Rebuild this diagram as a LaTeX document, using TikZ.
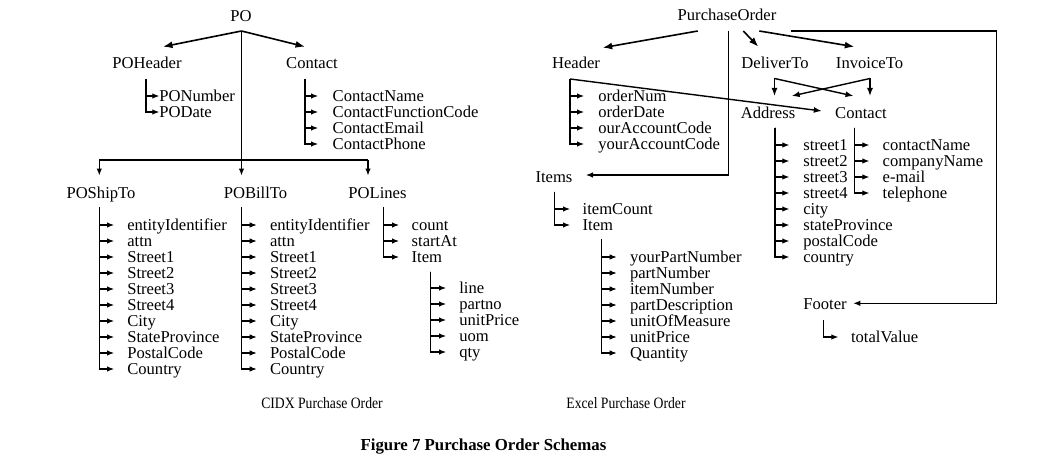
\documentclass[tikz,border=0pt]{standalone}
\usepackage{fontspec}
\usepackage{graphicx}
\setmainfont{Liberation Serif}
\usetikzlibrary{arrows.meta}
\begin{document}
\begin{tikzpicture}[x=1pt,y=-1pt,
  every node/.style={inner sep=0pt,outer sep=0pt,text height=11pt,text depth=0pt,font=\fontsize{16.6}{16.6}\selectfont},
  lbl/.style={anchor=center},
  itm/.style={anchor=west},
  sublabel/.style={anchor=center,text height=10.5pt,font=\fontsize{15.8}{15.8}\selectfont},
  tline/.style={line width=1.1pt},
  arr/.style={line width=1.1pt,-{Latex[length=7pt,width=5.5pt]}},
  bigarr/.style={line width=1.6pt,-{Latex[length=9.5pt,width=7pt]}},
  midarr/.style={line width=1.4pt,-{Latex[length=8pt,width=6pt]}}]
\useasboundingbox (0,0) rectangle (1043,468);
% ---------------- Left tree (CIDX) ----------------
\node[lbl] (PO) at (241,16) {PO};
\node[lbl] (POHeader) at (147,63) {POHeader};
\node[lbl] (Contact) at (312,63) {Contact};
\coordinate (poT) at (241.5,31);
\coordinate (poHA) at (163,46.7);
\coordinate (poCA) at (305,46.7);
\draw[bigarr] (poT) -- (poHA);
\draw[bigarr] (poT) -- (poCA);
% POHeader children
\node[itm] (PONumber) at (159.3,96) {PONumber};
\node[itm] (PODate) at (159.3,112) {PODate};
\coordinate (phT) at (146,79);
\foreach \n in {PONumber,PODate}
  \draw[arr] (phT) |- (\n.west);
% Contact children
\coordinate (cT) at (305,79);
\foreach \t [count=\i from 0] in {ContactName,ContactFunctionCode,ContactEmail,ContactPhone}{
  \node[itm] (c\i) at (332.7,96+16*\i) {\t};
  \draw[arr,shorten >=14.7pt] (cT) |- (c\i.west);
}
% trunk to second level
\coordinate (barM) at (241.5,160);
\coordinate (barL) at (99.3,160);
\coordinate (barR) at (368,160);
\coordinate (shipA) at (99.3,175.5);
\coordinate (billA) at (241.5,175.5);
\coordinate (linesA) at (368,175.5);
\draw[tline] (poT) -- (barM);
\draw[tline] (barL) -- (barR);
\draw[arr] (barL) -- (shipA);
\draw[arr] (barM) -- (billA);
\draw[arr] (barR) -- (linesA);
\node[lbl] (POShipTo) at (101,192.7) {POShipTo};
\node[lbl] (POBillTo) at (255.5,192.7) {POBillTo};
\node[lbl] (POLines) at (377.5,192.7) {POLines};
% POShipTo / POBillTo children
\coordinate (sT) at (99.3,207);
\coordinate (bT) at (241.7,207);
\foreach \t [count=\i from 0] in {entityIdentifier,attn,Street1,Street2,Street3,Street4,City,StateProvince,PostalCode,Country}{
  \node[itm] (s\i) at (127.3,225+16*\i) {\t};
  \draw[arr,shorten >=13.3pt] (sT) |- (s\i.west);
  \node[itm] (b\i) at (270,225+16*\i) {\t};
  \draw[arr,shorten >=13.3pt] (bT) |- (b\i.west);
}
% POLines children
\coordinate (lT) at (383.3,207);
\foreach \t [count=\i from 0] in {count,startAt,Item}{
  \node[itm] (l\i) at (411.7,225+16*\i) {\t};
  \draw[arr,shorten >=12.7pt] (lT) |- (l\i.west);
}
% Item children
\coordinate (iT) at (430.7,271.7);
\foreach \t [count=\i from 0] in {line,partno,unitPrice,uom,qty}{
  \node[itm] (it\i) at (459.3,288+16*\i) {\t};
  \draw[arr,shorten >=13.3pt] (iT) |- (it\i.west);
}
\node[sublabel] (cidx) at (322,403) {\scalebox{0.865}[1]{CIDX Purchase Order}};
% ---------------- Right tree (Excel) ----------------
\node[lbl] (PurchaseOrder) at (727,15) {PurchaseOrder};
\node[lbl] (Header) at (576,63) {Header};
\node[lbl] (DeliverTo) at (775,63) {DeliverTo};
\node[lbl] (InvoiceTo) at (869.5,63) {InvoiceTo};
\coordinate (pHs) at (697.7,31);
\coordinate (pHe) at (602.7,47.7);
\coordinate (pDs) at (743.3,31);
\coordinate (pDe) at (758.3,46.7);
\coordinate (pIs) at (759.3,31);
\coordinate (pIe) at (854.3,46.7);
\draw[bigarr] (pHs) -- (pHe);
\draw[bigarr] (pDs) -- (pDe);
\draw[bigarr] (pIs) -- (pIe);
% Header children
\coordinate (hT) at (570,79);
\foreach \t [count=\i from 0] in {orderNum,orderDate,ourAccountCode,yourAccountCode}{
  \node[itm] (h\i) at (598.3,96+16*\i) {\t};
  \draw[arr,shorten >=14.3pt] (hT) |- (h\i.west);
}
\node[lbl] (Address) at (768,112.7) {Address};
\node[lbl] (Contact2) at (861,112.7) {Contact};
\draw[midarr,shorten >=13.5pt] (hT) -- (Contact2.west);
% DeliverTo / InvoiceTo links
\coordinate (dT) at (774.5,78.5);
\coordinate (dA) at (774.5,96);
\coordinate (dC) at (853.5,96);
\coordinate (nT) at (870,78.5);
\coordinate (nA) at (791.7,96);
\coordinate (nC) at (870,96);
\draw[midarr] (dT) -- (dA);
\draw[midarr] (dT) -- (dC);
\draw[midarr] (nT) -- (nC);
\draw[midarr] (nT) -- (nA);
% Address children
\coordinate (aT) at (775,127.7);
\foreach \t [count=\i from 0] in {street1,street2,street3,street4,city,stateProvince,postalCode,country}{
  \node[itm] (a\i) at (803.3,145+16*\i) {\t};
  \draw[arr,shorten >=14pt] (aT) |- (a\i.west);
}
% Contact children
\coordinate (kT) at (854.3,127.7);
\foreach \t [count=\i from 0] in {contactName,companyName,e-mail,telephone}{
  \node[itm] (k\i) at (882.7,145+16*\i) {\t};
  \draw[arr,shorten >=13.4pt] (kT) |- (k\i.west);
}
% Items
\node[lbl] (Items) at (554,176.7) {Items};
\coordinate (pTr) at (728.3,31);
\coordinate (itA) at (586,175);
\draw[arr] (pTr) |- (itA);
\coordinate (iiT) at (554.3,191.7);
\foreach \t [count=\i from 0] in {itemCount,Item}{
  \node[itm] (ii\i) at (582.7,209+16*\i) {\t};
  \draw[arr,shorten >=12.7pt] (iiT) |- (ii\i.west);
}
\coordinate (i2T) at (601.7,239.3);
\foreach \t [count=\i from 0] in {yourPartNumber,partNumber,itemNumber,partDescription,unitOfMeasure,unitPrice,Quantity}{
  \node[itm] (j\i) at (630,257+16*\i) {\t};
  \draw[arr,shorten >=13.3pt] (i2T) |- (j\i.west);
}
% Footer
\node[lbl] (Footer) at (825,304) {Footer};
\coordinate (fS) at (790.7,31);
\coordinate (fR) at (996.7,303.3);
\coordinate (fA) at (853.3,303.3);
\draw[arr] (fS) -| (fR) -- (fA);
\coordinate (fT) at (823.3,320);
\node[itm] (totalValue) at (851,337) {totalValue};
\draw[arr,shorten >=12.7pt] (fT) |- (totalValue.west);
\node[sublabel] (excel) at (626,403) {\scalebox{0.865}[1]{Excel Purchase Order}};
% Caption
\node[lbl,text height=11pt,font=\fontsize{16.8}{16.8}\selectfont\bfseries] (caption) at (483.5,445) {Figure 7 Purchase Order Schemas};
\end{tikzpicture}
\end{document}
